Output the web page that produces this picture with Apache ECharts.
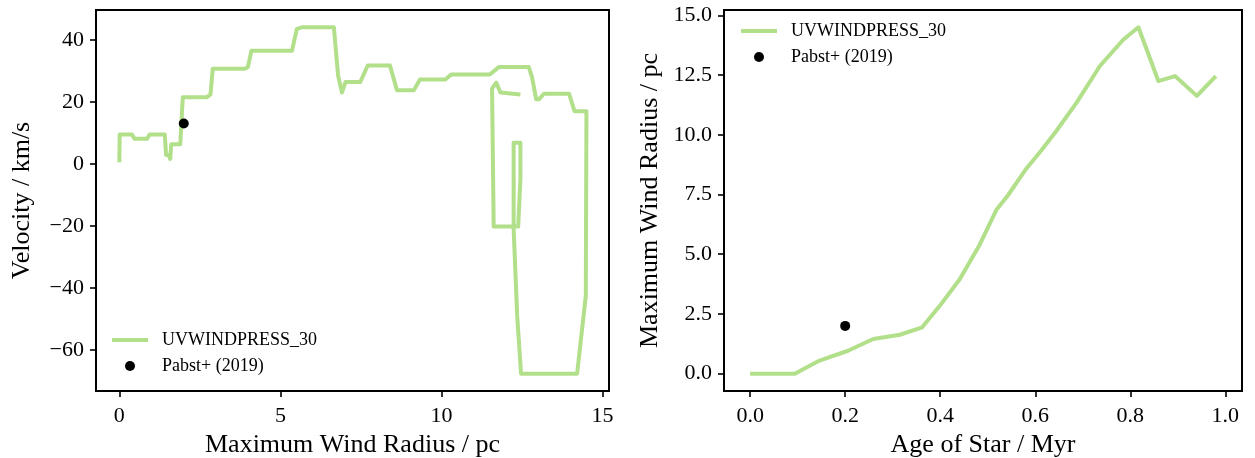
<!DOCTYPE html>
<html>
<head>
<meta charset="utf-8">
<script src="https://cdn.jsdelivr.net/npm/echarts@6/dist/echarts.min.js"></script>
<style>
html,body{margin:0;padding:0;background:#fff;}
#c{width:1255px;height:458px;}
</style>
</head>
<body>
<div id="c"></div>
<script>
// ---- Data ----
const seriesName = 'UVWINDPRESS_30';
const obsName = 'Pabst+ (2019)';

// Left panel: radius (pc) vs velocity (km/s), in time order
const leftRadius = [0,0.01,0.39,0.47,0.86,0.94,1.41,1.45,1.53,1.58,1.61,1.89,1.97,2.72,2.83,2.9,3.91,3.99,4.1,5.36,5.51,5.67,6.66,6.79,6.91,7.02,7.48,7.71,8.4,8.62,9.14,9.33,10.12,10.3,11.5,11.78,12.71,12.81,12.94,13.02,13.18,13.96,14.13,14.5,14.48,14.21,12.47,12.35,12.24,12.24,12.45,12.45,12.38,11.62,11.57,11.7,11.83,12.45];
const leftVelocity = [0.5,9.5,9.5,8.1,8.1,9.5,9.5,2.9,2.9,1.6,6.3,6.3,21.5,21.5,22.4,30.7,30.7,31.2,36.5,36.5,43.5,44,44,28.5,23,26.4,26.4,31.7,31.7,23.7,23.7,27.2,27.2,28.8,28.8,31.2,31.2,28,20.8,20.8,22.6,22.6,17,17,-42.5,-67.6,-67.6,-49,-21,6.8,6.8,-5,-20.2,-20.2,24.3,26.2,23,22.4];
const leftObs = [[2.0, 13.0]];

// Right panel: age (Myr) vs radius (pc)
const rightAge = [0.0,0.094,0.146,0.206,0.259,0.315,0.362,0.399,0.441,0.483,0.518,0.543,0.581,0.613,0.645,0.687,0.736,0.785,0.817,0.859,0.894,0.94,0.98];
const rightRadius = [0,0,0.55,0.96,1.45,1.63,1.94,2.84,3.95,5.4,6.85,7.48,8.58,9.35,10.18,11.35,12.88,13.98,14.5,12.25,12.46,11.63,12.46];
const rightObs = [[0.2, 2.0]];

// Tick labels
const leftXTicks = [0,5,10,15];
const leftYTicks = [-60,-40,-20,0,20,40];
const rightXTicks = [0,0.2,0.4,0.6,0.8,1.0];
const rightYTicks = [0,2.5,5,7.5,10,12.5,15];

// Axis titles
const leftXTitle = 'Maximum Wind Radius / pc';
const leftYTitle = 'Velocity / km/s';
const rightXTitle = 'Age of Star / Myr';
const rightYTitle = 'Maximum Wind Radius / pc';

// ---- Chart ----
const FONT = 'Liberation Serif';
const GREEN = '#b2df8a';
const minus = v => String(v).replace('-', '\u2212');
const LINE_ICON = 'path://M0,0L36,0L36,4L0,4Z';

function zip(a, b){ return a.map((v,i)=>[v,b[i]]); }

function axis(opts){
  return Object.assign({
    type:'value',
    splitLine:{show:false},
    axisLine:{show:true, onZero:false, lineStyle:{color:'#000', width:2}},
    axisTick:{show:true, inside:false, length:6, lineStyle:{color:'#000', width:1.6}, customValues:opts.ticks},
    axisLabel:{color:'#000', fontFamily:FONT, fontSize:22, margin:opts.margin, customValues:opts.ticks, formatter:opts.fmt},
    nameLocation:'middle',
    nameTextStyle:{color:'#000', fontFamily:FONT, fontSize:26}
  }, opts.extra);
}

function legend(left, top){
  return {left:left, top:top, orient:'vertical', padding:0, itemWidth:36, itemHeight:10, itemGap:8,
    symbolKeepAspect:true,
    data:[{name:seriesName, icon:LINE_ICON, itemStyle:{color:GREEN, opacity:1}},
          {name:obsName, icon:'circle', itemStyle:{color:'#000', opacity:1}}],
    textStyle:{color:'#000', fontFamily:FONT, fontSize:18, padding:[0,0,0,9]}};
}

const chart = echarts.init(document.getElementById('c'), null, {renderer:'canvas'});
chart.setOption({
  animation:false,
  backgroundColor:'#fff',
  grid:[
    {left:96, top:10, width:513, height:381, show:true, borderColor:'#000', borderWidth:2, containLabel:false, outerBoundsMode:'none'},
    {left:724, top:10, width:518, height:381, show:true, borderColor:'#000', borderWidth:2, containLabel:false, outerBoundsMode:'none'}
  ],
  xAxis:[
    axis({ticks:leftXTicks, fmt:v=>minus(v), margin:14, extra:{gridIndex:0, min:-0.725, max:15.2, name:leftXTitle, nameGap:40}}),
    axis({ticks:rightXTicks, fmt:v=>v.toFixed(1), margin:14, extra:{gridIndex:1, min:-0.055, max:1.035, name:rightXTitle, nameGap:40}})
  ],
  yAxis:[
    axis({ticks:leftYTicks, fmt:v=>minus(v), margin:12, extra:{gridIndex:0, min:-73.2, max:49.6, name:leftYTitle, nameGap:61}}),
    axis({ticks:rightYTicks, fmt:v=>v.toFixed(1), margin:12, extra:{gridIndex:1, min:-0.725, max:15.225, name:rightYTitle, nameGap:61}})
  ],
  legend:[legend(112, 331), legend(741, 22)],
  series:[
    {name:seriesName, type:'line', xAxisIndex:0, yAxisIndex:0, data:zip(leftRadius,leftVelocity),
     symbol:'none', lineStyle:{color:GREEN, width:4, join:'round'}, itemStyle:{color:GREEN}},
    {name:obsName, type:'scatter', xAxisIndex:0, yAxisIndex:0, data:leftObs,
     symbol:'circle', symbolSize:10, itemStyle:{color:'#000', opacity:1}, z:5},
    {name:seriesName, type:'line', xAxisIndex:1, yAxisIndex:1, data:zip(rightAge,rightRadius),
     symbol:'none', lineStyle:{color:GREEN, width:4, join:'round'}, itemStyle:{color:GREEN}},
    {name:obsName, type:'scatter', xAxisIndex:1, yAxisIndex:1, data:rightObs,
     symbol:'circle', symbolSize:10, itemStyle:{color:'#000', opacity:1}, z:5}
  ]
});
</script>
</body>
</html>
